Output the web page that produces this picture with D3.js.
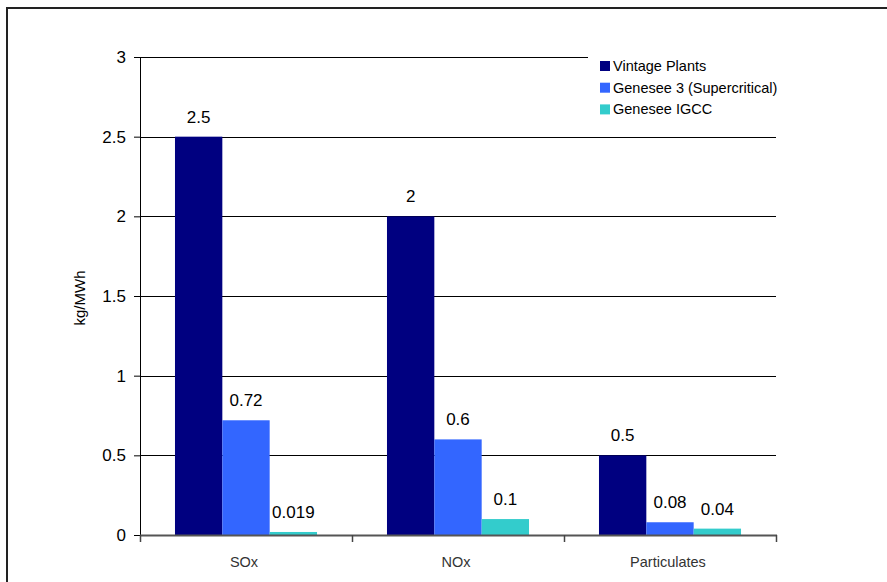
<html>
<head>
<meta charset="utf-8">
<style>
body { margin:0; padding:0; background:white; overflow:hidden; font-family: "Liberation Sans", Arial, sans-serif; }
</style>
</head>
<body>
<div id="chart"></div>
<script src="https://cdn.jsdelivr.net/npm/d3@7"></script>
<script>
// chart data
const categories = ["SOx", "NOx", "Particulates"];
const seriesNames = ["Vintage Plants", "Genesee 3 (Supercritical)", "Genesee IGCC"];
const vintage  = [2.5, 2, 0.5];
const genesee3 = [0.72, 0.6, 0.08];
const igcc     = [0.019, 0.1, 0.04];
const yTicks = [0, 0.5, 1, 1.5, 2, 2.5, 3];
const colors = ["#000080", "#3366FF", "#33CCCC"];

const width = 887, height = 582;
const svg = d3.select("#chart").append("svg").attr("width", width).attr("height", height);

// outer frame (runs off right/bottom edge)
svg.append("path").attr("d", "M7,600 V8 H900").attr("fill", "none").attr("stroke", "#222").attr("stroke-width", 2);

const plot = {left: 140, right: 776, top: 57, bottom: 535};

const y = d3.scaleLinear().domain([0, 3]).range([plot.bottom, plot.top]);
const x0 = d3.scaleBand().domain(categories).range([plot.left, plot.right]).paddingInner(0.33).paddingOuter(0.165);
const x1 = d3.scaleBand().domain(seriesNames).range([0, x0.bandwidth()]);

const rows = categories.map((c, i) => ({cat: c, vals: [vintage[i], genesee3[i], igcc[i]]}));

// gridlines
svg.append("g").selectAll("line").data(yTicks.filter(d => d > 0)).enter().append("line")
  .attr("x1", plot.left).attr("x2", plot.right)
  .attr("y1", d => Math.round(y(d)) + 0.5).attr("y2", d => Math.round(y(d)) + 0.5)
  .attr("stroke", "#000").attr("stroke-width", 1);

// bars
const groups = svg.append("g").selectAll("g").data(rows).enter().append("g")
  .attr("transform", d => `translate(${x0(d.cat)},0)`);

groups.selectAll("rect").data(d => d.vals.map((v, j) => ({s: seriesNames[j], v: v, j: j}))).enter().append("rect")
  .attr("x", d => x1(d.s)).attr("width", x1.bandwidth())
  .attr("y", d => y(d.v)).attr("height", d => plot.bottom - y(d.v))
  .attr("fill", d => colors[d.j]);

groups.selectAll("text").data(d => d.vals.map((v, j) => ({s: seriesNames[j], v: v}))).enter().append("text")
  .attr("x", d => x1(d.s) + x1.bandwidth() / 2)
  .attr("y", d => y(d.v) - 14)
  .attr("text-anchor", "middle")
  .attr("font-size", 17).attr("fill", "#000")
  .text(d => String(d.v));

// y axis
const yAxis = svg.append("g").attr("transform", `translate(${plot.left},0)`)
  .call(d3.axisLeft(y).tickValues(yTicks).tickSize(6).tickPadding(8).tickFormat(d => String(d)));
yAxis.select(".domain").attr("stroke", "#000").attr("d", `M0.5,${plot.top}V${plot.bottom}`);
yAxis.selectAll(".tick line").attr("stroke", "#000");
yAxis.selectAll(".tick text").attr("font-size", 17).attr("fill", "#000").attr("font-family", "Liberation Sans, Arial, sans-serif");

// x axis
svg.append("line").attr("x1", plot.left).attr("x2", plot.right + 1)
  .attr("y1", plot.bottom + 0.5).attr("y2", plot.bottom + 0.5)
  .attr("stroke", "#555").attr("stroke-width", 2);
const bounds = [plot.left, ...categories.map(c => x0(c) - x0.step() * 0.165 + x0.step())];
svg.append("g").selectAll("line").data(bounds).enter().append("line")
  .attr("x1", d => Math.round(d) + 0.5).attr("x2", d => Math.round(d) + 0.5)
  .attr("y1", plot.bottom).attr("y2", plot.bottom + 7)
  .attr("stroke", "#444").attr("stroke-width", 1.5);
svg.append("g").selectAll("text").data(categories).enter().append("text")
  .attr("x", d => x0(d) + x0.bandwidth() / 2 - 2).attr("y", 567)
  .attr("text-anchor", "middle").attr("font-size", 14.5).attr("fill", "#333")
  .text(d => d);

// y axis title
svg.append("text").attr("transform", "translate(85,298) rotate(-90)")
  .attr("text-anchor", "middle").attr("font-size", 15).attr("fill", "#000")
  .text("kg/MWh");

// legend
const legend = svg.append("g");
legend.append("rect").attr("x", 588).attr("y", 50).attr("width", 192).attr("height", 72).attr("fill", "white");
const leg = legend.selectAll("g").data(seriesNames).enter().append("g")
  .attr("transform", (d, i) => `translate(600,${66 + i * 21.7})`);
leg.append("rect").attr("x", 0).attr("y", -5).attr("width", 10).attr("height", 10).attr("fill", (d, i) => colors[i]);
leg.append("text").attr("x", 13).attr("y", 5).attr("font-size", 14.5).attr("fill", "#000").text(d => d);
</script>
</body>
</html>
